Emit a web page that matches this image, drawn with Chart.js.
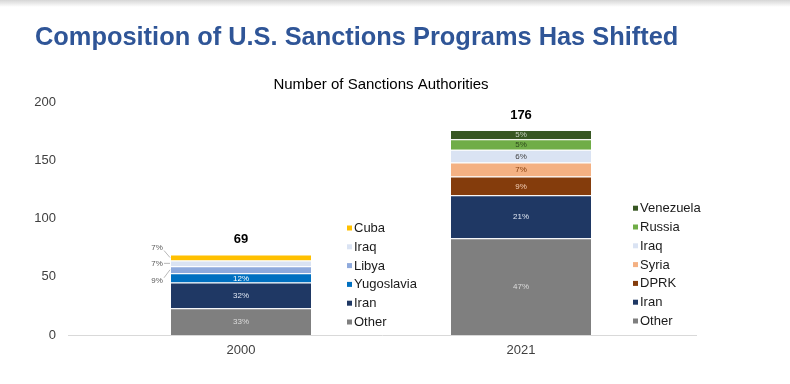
<!DOCTYPE html>
<html>
<head>
<meta charset="utf-8">
<script src="https://cdn.jsdelivr.net/npm/chart.js@4"></script>
<style>
  html, body { margin: 0; padding: 0; background: #fff; }
  #wrap { position: relative; width: 790px; height: 384px; }
  #shade { position: absolute; left: 0; top: 0; width: 790px; height: 7px;
           background: linear-gradient(#d6d6d6, rgba(255,255,255,0)); }
</style>
</head>
<body>
<div id="wrap">
  <canvas id="chart" width="790" height="384"></canvas>
  <div id="shade"></div>
</div>
<script>
// data, bottom of the stack first
const years = ['2000', '2021'];
const other      = [23, 83];
const iran       = [22, 37];
const yugoslavia = [8, 0];
const libya      = [6, 0];
const dprk       = [0, 16];
const syria      = [0, 12];
const iraq       = [5, 11];
const cuba       = [5, 0];
const russia     = [0, 9];
const venezuela  = [0, 8];
const totals     = [69, 176];
const yTicks     = [0, 50, 100, 150, 200];

const legend2000 = ['Cuba', 'Iraq', 'Libya', 'Yugoslavia', 'Iran', 'Other'];
const legend2021 = ['Venezuela', 'Russia', 'Iraq', 'Syria', 'DPRK', 'Iran', 'Other'];
// small 2000 slices labelled outside with a leader line
const callouts2000 = {Cuba: -10, Iraq: 0, Libya: 11};

function series(label, data, color, labelColor) {
    return {label, data, backgroundColor: color, labelColor,
            borderColor: 'rgba(255,255,255,0.55)', borderWidth: {top: 1}, borderSkipped: 'bottom'};
}

const datasets = [
    series('Other', other, '#7f7f7f', '#dcdcdc'),
    series('Iran', iran, '#1f3864', '#dfe6f2'),
    series('Yugoslavia', yugoslavia, '#0070c0', '#ffffff'),
    series('Libya', libya, '#8faadc', '#404040'),
    series('DPRK', dprk, '#843c0c', '#f4d0b8'),
    series('Syria', syria, '#f4b183', '#843c0c'),
    series('Iraq', iraq, '#dae3f3', '#404040'),
    series('Cuba', cuba, '#ffc000', '#404040'),
    series('Russia', russia, '#70ad47', '#2e4a1c'),
    series('Venezuela', venezuela, '#385723', '#c9d3c0')
];

const FONT = 'Arial, "Liberation Sans", sans-serif';

const decor = {
    id: 'decor',
    beforeDatasetsDraw(chart) {
        const ctx = chart.ctx, y0 = chart.scales.y.getPixelForValue(0);
        ctx.save();
        ctx.strokeStyle = '#d9d9d9';
        ctx.lineWidth = 1;
        ctx.beginPath();
        ctx.moveTo(68, Math.round(y0) + 0.5);
        ctx.lineTo(697, Math.round(y0) + 0.5);
        ctx.stroke();
        ctx.restore();
    },
    afterDatasetsDraw(chart) {
        const ctx = chart.ctx;
        ctx.save();
        ctx.textAlign = 'center';
        ctx.textBaseline = 'middle';
        chart.data.datasets.forEach((ds, di) => {
            const meta = chart.getDatasetMeta(di);
            meta.data.forEach((bar, i) => {
                const v = ds.data[i];
                if (!v) return;
                const pct = Math.round(v / totals[i] * 100) + '%';
                const mid = (bar.y + bar.base) / 2;
                ctx.font = '8px ' + FONT;
                if (i === 0 && callouts2000[ds.label] !== undefined) {
                    const left = bar.x - bar.width / 2;
                    const ly = mid + callouts2000[ds.label];
                    ctx.fillStyle = '#595959';
                    ctx.fillText(pct, left - 14, ly);
                    ctx.strokeStyle = '#a6a6a6';
                    ctx.lineWidth = 0.8;
                    ctx.beginPath();
                    ctx.moveTo(left - 7, ly + (ly < mid ? 3 : ly > mid ? -3 : 0));
                    ctx.lineTo(left - 1, mid);
                    ctx.stroke();
                } else {
                    ctx.fillStyle = ds.labelColor;
                    ctx.fillText(pct, bar.x, mid + 0.5);
                }
            });
        });
        // totals above the bars
        ctx.font = 'bold 13px ' + FONT;
        ctx.fillStyle = '#000';
        totals.forEach((t, i) => {
            const x = chart.scales.x.getPixelForValue(i);
            ctx.fillText(String(t), x, chart.scales.y.getPixelForValue(t) - 15);
        });
        ctx.restore();
    },
    afterDraw(chart) {
        const ctx = chart.ctx;
        ctx.save();
        // headings
        ctx.textBaseline = 'alphabetic';
        ctx.textAlign = 'left';
        ctx.fillStyle = '#2f5597';
        ctx.font = 'bold 25.4px ' + FONT;
        ctx.fillText('Composition of U.S. Sanctions Programs Has Shifted', 35, 45);
        ctx.textAlign = 'center';
        ctx.fillStyle = '#000';
        ctx.font = '15px ' + FONT;
        ctx.fillText('Number of Sanctions Authorities', 381, 89);

        // legends beside each bar
        const colors = {};
        chart.data.datasets.forEach(ds => colors[ds.label] = ds.backgroundColor);
        const meta = chart.getDatasetMeta(0);
        const lists = [[legend2000, 36, 322], [legend2021, 42, 321]];
        ctx.font = '13px ' + FONT;
        ctx.textAlign = 'left';
        ctx.textBaseline = 'middle';
        lists.forEach(([names, gap, bottomY], i) => {
            const bar = meta.data[i];
            const x = bar.x + bar.width / 2 + gap;
            names.forEach((name, k) => {
                const y = bottomY - (names.length - 1 - k) * 18.8;
                ctx.fillStyle = colors[name];
                ctx.fillRect(x, y - 2.5, 5, 5);
                ctx.fillStyle = '#1a1a1a';
                ctx.fillText(name, x + 7, y + 0.5);
            });
        });
        ctx.restore();
    }
};

new Chart(document.getElementById('chart'), {
    type: 'bar',
    data: {labels: years, datasets: datasets},
    options: {
        responsive: false,
        animation: false,
        layout: {padding: {left: 0, right: 129, top: 102, bottom: 0}},
        datasets: {bar: {categoryPercentage: 1, barPercentage: 0.5}},
        plugins: {legend: {display: false}, tooltip: {enabled: false}, title: {display: false}},
        scales: {
            x: {
                stacked: true,
                grid: {display: false, drawTicks: false},
                border: {display: false},
                ticks: {color: '#404040', font: {size: 13, family: FONT}, padding: 8},
                afterFit: s => { s.height = 49; }
            },
            y: {
                stacked: true,
                min: 0, max: 200,
                afterBuildTicks: s => { s.ticks = yTicks.map(v => ({value: v})); },
                grid: {display: false, drawTicks: false},
                border: {display: false},
                ticks: {color: '#404040', font: {size: 13, family: FONT}, padding: 45},
                // big label padding would otherwise also pad the plot bottom
                afterFit: s => { s.width = 101; s.paddingTop = 8; s.paddingBottom = 8; }
            }
        }
    },
    plugins: [decor]
});
</script>
</body>
</html>
